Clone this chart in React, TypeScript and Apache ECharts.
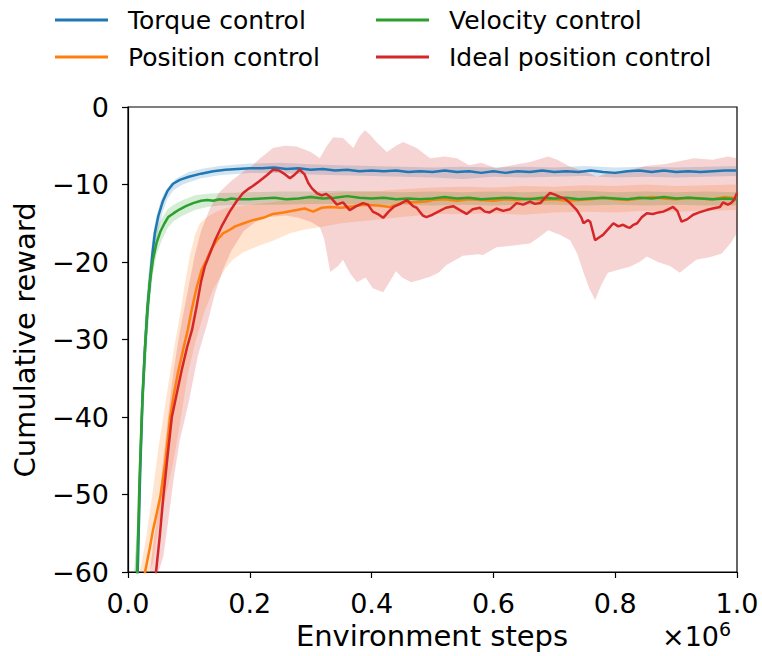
import React, { useEffect, useRef } from "react";
import * as echarts from "echarts";

// ---------- data (x in units of 10^6 environment steps) ----------
const xTicks = [0, 0.2, 0.4, 0.6, 0.8, 1.0];
const yTicks = [-60, -50, -40, -30, -20, -10, 0];

const seriesNames = ["Torque control", "Position control", "Velocity control", "Ideal position control"];
const seriesColors = ["#1f77b4", "#ff7f0e", "#2ca02c", "#d62728"];
const bandColors = ["rgba(31,119,180,0.2)", "rgba(255,127,14,0.2)", "rgba(44,160,44,0.2)", "rgba(214,39,40,0.2)"];

const torqueMean: number[][] = [
  [0.012, -75], [0.016, -60], [0.02, -47], [0.024, -37], [0.028, -31], [0.032, -26], [0.036, -22.5],
  [0.04, -19], [0.044, -16.3], [0.05, -14], [0.057, -12.2], [0.065, -10.8], [0.074, -9.9], [0.085, -9.4],
  [0.1, -9.0], [0.12, -8.6], [0.14, -8.3], [0.16, -8.1], [0.18, -8.0], [0.2, -7.9], [0.22, -7.9],
  [0.24, -7.8], [0.26, -8.0], [0.28, -7.9], [0.3, -8.1], [0.32, -8.0], [0.34, -8.2], [0.36, -8.1],
  [0.38, -8.3], [0.4, -8.2], [0.42, -8.3], [0.44, -8.2], [0.46, -8.4], [0.48, -8.3], [0.5, -8.4],
  [0.52, -8.2], [0.54, -8.4], [0.56, -8.3], [0.58, -8.5], [0.6, -8.3], [0.62, -8.5], [0.64, -8.3],
  [0.66, -8.4], [0.68, -8.2], [0.7, -8.4], [0.72, -8.3], [0.74, -8.4], [0.76, -8.2], [0.78, -8.4],
  [0.8, -8.5], [0.82, -8.3], [0.84, -8.2], [0.86, -8.4], [0.88, -8.2], [0.9, -8.4], [0.92, -8.3],
  [0.94, -8.4], [0.96, -8.3], [0.98, -8.2], [1.0, -8.2],
];
const torqueUpper: number[][] = [
  [0.011, -65], [0.015, -55], [0.02, -42], [0.025, -32], [0.03, -25], [0.035, -20.5], [0.04, -17],
  [0.046, -14.3], [0.053, -12.3], [0.06, -11], [0.07, -9.9], [0.08, -9.2], [0.1, -8.4], [0.12, -8.0],
  [0.15, -7.6], [0.2, -7.3], [0.25, -7.2], [0.3, -7.4], [0.35, -7.5], [0.4, -7.6], [0.45, -7.7],
  [0.5, -7.8], [0.55, -7.7], [0.6, -7.8], [0.65, -7.7], [0.7, -7.8], [0.75, -7.6], [0.8, -7.8],
  [0.85, -7.7], [0.9, -7.8], [0.95, -7.7], [1.0, -7.6],
];
const torqueLower: number[][] = [
  [0.014, -70], [0.018, -58], [0.023, -45], [0.027, -37], [0.032, -30], [0.036, -25], [0.04, -21.5],
  [0.045, -18], [0.05, -15.8], [0.057, -13.5], [0.065, -11.8], [0.075, -10.7], [0.09, -10], [0.1, -9.7],
  [0.12, -9.2], [0.15, -8.8], [0.2, -8.5], [0.25, -8.5], [0.3, -8.7], [0.35, -8.8], [0.4, -8.9],
  [0.45, -9.0], [0.5, -9.1], [0.55, -9.3], [0.6, -9.0], [0.65, -9.1], [0.7, -9.0], [0.75, -8.9],
  [0.8, -9.1], [0.85, -9.0], [0.9, -9.1], [0.95, -9.0], [1.0, -8.9],
];

const velocityMean: number[][] = [
  [0.011, -75], [0.015, -60], [0.019, -48], [0.023, -39], [0.028, -31], [0.032, -26], [0.036, -22.5],
  [0.041, -19.7], [0.047, -17.5], [0.053, -16.1], [0.06, -15], [0.066, -14.2], [0.075, -13.7],
  [0.085, -13.2], [0.095, -12.8], [0.107, -12.4], [0.12, -12.1], [0.13, -12.0], [0.14, -12.1],
  [0.15, -11.9], [0.16, -12.0], [0.17, -11.8], [0.18, -11.9], [0.2, -11.9], [0.22, -11.8], [0.24, -11.7],
  [0.26, -11.9], [0.28, -11.8], [0.3, -11.6], [0.32, -11.8], [0.34, -11.7], [0.36, -11.5], [0.38, -11.7],
  [0.4, -11.8], [0.42, -11.7], [0.44, -11.9], [0.46, -11.8], [0.48, -11.9], [0.5, -11.8], [0.52, -11.6],
  [0.54, -11.8], [0.56, -11.7], [0.58, -11.9], [0.6, -11.8], [0.62, -11.7], [0.64, -11.8], [0.66, -11.9],
  [0.68, -11.7], [0.7, -11.8], [0.72, -11.7], [0.74, -11.9], [0.76, -11.8], [0.78, -11.7], [0.8, -11.8],
  [0.82, -11.9], [0.84, -11.7], [0.86, -11.8], [0.88, -11.6], [0.9, -11.8], [0.92, -11.7], [0.94, -11.8],
  [0.96, -11.9], [0.98, -11.8], [1.0, -11.9],
];
const velocityUpper: number[][] = [
  [0.01, -65], [0.014, -55], [0.019, -43], [0.024, -33], [0.029, -26], [0.034, -21.5], [0.04, -18],
  [0.047, -15.8], [0.055, -14.4], [0.065, -13.2], [0.075, -12.6], [0.09, -12.0], [0.11, -11.4],
  [0.13, -11.2], [0.15, -11.1], [0.2, -11.0], [0.25, -10.9], [0.3, -10.9], [0.35, -10.8], [0.4, -10.9],
  [0.45, -11.0], [0.5, -10.9], [0.55, -11.0], [0.6, -10.9], [0.65, -11.0], [0.7, -10.9], [0.75, -10.8],
  [0.8, -11.0], [0.85, -10.9], [0.9, -11.0], [0.95, -10.9], [1.0, -11.0],
];
const velocityLower: number[][] = [
  [0.013, -70], [0.017, -58], [0.021, -47], [0.026, -37], [0.031, -30], [0.036, -25], [0.041, -21.5],
  [0.047, -19], [0.055, -17.3], [0.065, -15.6], [0.075, -14.7], [0.09, -14], [0.11, -13.3], [0.13, -12.9],
  [0.15, -12.7], [0.2, -12.6], [0.25, -12.6], [0.3, -12.5], [0.35, -12.5], [0.4, -12.6], [0.45, -12.6],
  [0.5, -12.7], [0.55, -12.6], [0.6, -12.7], [0.65, -12.6], [0.7, -12.6], [0.75, -12.7], [0.8, -12.6],
  [0.85, -12.7], [0.9, -12.6], [0.95, -12.7], [1.0, -12.7],
];

const positionMean: number[][] = [
  [0.015, -68], [0.02, -65], [0.025, -62], [0.028, -60], [0.031, -58.8], [0.036, -56.8], [0.041, -54.6],
  [0.047, -52.5], [0.053, -50.3], [0.061, -46], [0.069, -40.1], [0.075, -37.2], [0.082, -34.3],
  [0.09, -31.5], [0.098, -28.8], [0.105, -26], [0.113, -23.2], [0.121, -21], [0.129, -19.7],
  [0.137, -18.3], [0.146, -17.2], [0.156, -16.3], [0.166, -15.9], [0.176, -15.4], [0.19, -15.0],
  [0.205, -14.6], [0.222, -14.3], [0.238, -13.8], [0.255, -13.6], [0.277, -13.3], [0.29, -13.1],
  [0.304, -13.5], [0.318, -13.0], [0.332, -12.9], [0.35, -13.0], [0.37, -12.8], [0.386, -12.6],
  [0.41, -12.7], [0.43, -12.9], [0.452, -12.3], [0.47, -12.3], [0.49, -12.2], [0.5, -12.0],
  [0.52, -11.9], [0.54, -12.1], [0.56, -11.9], [0.58, -12.0], [0.6, -12.1], [0.62, -11.9], [0.64, -12.0],
  [0.66, -11.8], [0.68, -12.0], [0.7, -11.9], [0.72, -12.1], [0.74, -12.0], [0.76, -11.9], [0.78, -11.7],
  [0.8, -11.9], [0.82, -12.0], [0.84, -11.8], [0.86, -11.6], [0.88, -11.8], [0.9, -11.9], [0.92, -11.7],
  [0.94, -11.8], [0.96, -11.9], [0.98, -11.6], [1.0, -11.8],
];
const positionUpper: number[][] = [
  [0.018, -62], [0.022, -59], [0.03, -55.5], [0.04, -50], [0.05, -44], [0.06, -39], [0.069, -34.3],
  [0.077, -30.5], [0.085, -27], [0.094, -22.5], [0.102, -19], [0.11, -16.5], [0.118, -15], [0.13, -14.2],
  [0.145, -13.5], [0.162, -13], [0.2, -12.6], [0.238, -12.3], [0.27, -11.8], [0.3, -11.3], [0.35, -11.0],
  [0.4, -10.9], [0.45, -10.6], [0.5, -10.4], [0.55, -10.3], [0.6, -10.4], [0.65, -10.2], [0.7, -10.3],
  [0.75, -10.1], [0.8, -10.2], [0.85, -10.0], [0.9, -10.2], [0.95, -10.1], [1.0, -10.0],
];
const positionLower: number[][] = [
  [0.035, -64], [0.041, -58.8], [0.05, -54], [0.06, -51], [0.074, -46], [0.087, -40], [0.098, -34.5],
  [0.11, -30.5], [0.125, -26.5], [0.14, -23.5], [0.146, -22.7], [0.16, -20.8], [0.172, -19.7],
  [0.19, -18.7], [0.212, -18.0], [0.24, -17.2], [0.266, -16.3], [0.29, -15.8], [0.315, -15.5],
  [0.35, -15.0], [0.4, -14.6], [0.45, -14.2], [0.5, -13.8], [0.55, -13.8], [0.6, -13.7], [0.65, -13.9],
  [0.7, -13.6], [0.75, -13.5], [0.8, -13.6], [0.85, -13.4], [0.9, -13.5], [0.95, -13.4], [1.0, -13.3],
];

const idealMean: number[][] = [
  [0.04, -70], [0.046, -60], [0.052, -55.5], [0.058, -50.3], [0.065, -45], [0.072, -40], [0.08, -37],
  [0.088, -34], [0.097, -31], [0.105, -28.8], [0.112, -26], [0.12, -22.5], [0.126, -20.6], [0.135, -18.8],
  [0.143, -17.2], [0.155, -15.2], [0.167, -13.5], [0.178, -12.2], [0.189, -11.1], [0.197, -10.6],
  [0.205, -10.2], [0.215, -9.6], [0.228, -8.8], [0.238, -8.1], [0.248, -8.2], [0.258, -8.7], [0.266, -9.2],
  [0.274, -8.7], [0.282, -8.1], [0.29, -8.7], [0.296, -9.8], [0.302, -10.5], [0.31, -11.1], [0.318, -11.4],
  [0.325, -11.2], [0.332, -11.6], [0.343, -12.6], [0.353, -12.3], [0.364, -13.3], [0.375, -12.8],
  [0.386, -12.4], [0.394, -12.6], [0.402, -13.5], [0.412, -13.9], [0.419, -14.3], [0.428, -13.5],
  [0.436, -12.9], [0.447, -12.5], [0.458, -12.0], [0.468, -12.8], [0.474, -13.0], [0.484, -14.0],
  [0.49, -14.2], [0.5, -13.9], [0.512, -13.4], [0.522, -13.0], [0.534, -12.8], [0.545, -13.3],
  [0.556, -13.8], [0.566, -13.2], [0.578, -13.0], [0.586, -13.5], [0.594, -13.6], [0.605, -13.1],
  [0.616, -13.4], [0.627, -13.2], [0.638, -12.4], [0.649, -12.6], [0.66, -12.2], [0.668, -12.5],
  [0.677, -12.4], [0.685, -11.7], [0.693, -11.1], [0.701, -11.3], [0.709, -11.6], [0.717, -11.8],
  [0.726, -12.4], [0.737, -13.3], [0.744, -14.2], [0.748, -15.0], [0.755, -14.6], [0.759, -14.8],
  [0.763, -16.0], [0.767, -17.2], [0.774, -16.8], [0.78, -16.5], [0.788, -15.8], [0.797, -15.0],
  [0.805, -15.4], [0.813, -15.2], [0.82, -15.5], [0.824, -15.6], [0.83, -15.2], [0.836, -15.0],
  [0.844, -14.2], [0.852, -13.7], [0.862, -13.8], [0.871, -13.6], [0.879, -13.5], [0.887, -13.2],
  [0.895, -12.9], [0.902, -13.4], [0.909, -14.8], [0.918, -14.5], [0.928, -13.9], [0.938, -13.6],
  [0.95, -13.3], [0.96, -13.1], [0.972, -12.9], [0.977, -12.3], [0.985, -12.6], [0.99, -12.4],
  [0.995, -12.0], [1.0, -11.1],
];
const idealUpper: number[][] = [
  [0.036, -62], [0.042, -56], [0.05, -52], [0.057, -46], [0.063, -42], [0.07, -37], [0.075, -34],
  [0.083, -30], [0.09, -27], [0.1, -23], [0.11, -19], [0.12, -16], [0.135, -13], [0.15, -11], [0.17, -9.5],
  [0.19, -8.3], [0.205, -7.5], [0.217, -6.6], [0.238, -5.3], [0.258, -5.0], [0.277, -5.1], [0.3, -5.8],
  [0.315, -6.6], [0.325, -5.2], [0.337, -3.9], [0.353, -4.0], [0.37, -5.3], [0.38, -3.8], [0.389, -3.0],
  [0.398, -3.6], [0.408, -4.5], [0.425, -5.8], [0.44, -5.0], [0.452, -4.5], [0.474, -5.3], [0.496, -6.6],
  [0.52, -6.4], [0.54, -6.6], [0.56, -7.5], [0.58, -7.2], [0.605, -7.9], [0.63, -7.5], [0.66, -7.1],
  [0.69, -6.4], [0.705, -6.8], [0.726, -7.7], [0.75, -8.3], [0.77, -9.0], [0.795, -8.4], [0.82, -8.2],
  [0.85, -7.6], [0.88, -7.4], [0.905, -7.0], [0.93, -6.6], [0.96, -6.8], [0.985, -6.4], [1.0, -6.6],
];
const idealLower: number[][] = [
  [0.05, -64], [0.058, -58], [0.065, -54], [0.075, -48], [0.085, -43], [0.1, -38], [0.115, -32],
  [0.13, -28], [0.143, -24], [0.156, -21], [0.17, -18.5], [0.19, -16], [0.21, -14.8], [0.23, -14.2],
  [0.26, -14.0], [0.28, -14.3], [0.3, -14.8], [0.315, -15.5], [0.322, -17], [0.328, -19.5], [0.332, -21.3],
  [0.345, -20.5], [0.353, -19.7], [0.365, -21.5], [0.376, -22.6], [0.39, -22.0], [0.402, -23.4],
  [0.419, -23.9], [0.43, -22.5], [0.44, -21.2], [0.45, -22.0], [0.465, -22.6], [0.48, -22.3],
  [0.496, -21.9], [0.51, -21.4], [0.523, -20.4], [0.55, -19.2], [0.575, -19.0], [0.583, -19.1],
  [0.605, -18.1], [0.63, -17.9], [0.66, -17.6], [0.675, -16.8], [0.69, -15.9], [0.71, -16.5],
  [0.726, -17.2], [0.738, -19.0], [0.748, -21.4], [0.758, -23.5], [0.767, -24.9], [0.777, -23.0],
  [0.788, -21.4], [0.805, -21.0], [0.824, -20.6], [0.84, -20.0], [0.852, -19.3], [0.87, -20.0],
  [0.89, -20.5], [0.906, -21.4], [0.92, -20.5], [0.933, -19.7], [0.955, -19.4], [0.975, -18.9],
  [0.99, -17.5], [1.0, -16.3],
];

const means = [torqueMean, positionMean, velocityMean, idealMean];
const uppers = [torqueUpper, positionUpper, velocityUpper, idealUpper];
const lowers = [torqueLower, positionLower, velocityLower, idealLower];

const FONT = "DejaVu Sans";

function bandSeries(i: number) {
  const pts = uppers[i].concat(lowers[i].slice().reverse());
  return {
    type: "custom",
    name: seriesNames[i] + " band",
    silent: true,
    clip: true,
    data: pts,
    encode: { x: 0, y: 1 },
    renderItem: (params: any, api: any) => {
      if (params.dataIndex !== 0) return null;
      let points = pts.map((p) => api.coord(p));
      const cs = params.coordSys;
      const g: any = (echarts as any).graphic;
      if (g && g.clipPointsByRect) {
        points = g.clipPointsByRect(points, { x: cs.x, y: cs.y, width: cs.width, height: cs.height });
      }
      return {
        type: "polygon",
        shape: { points },
        style: { fill: bandColors[i], stroke: null },
      };
    },
  };
}

function lineSeries(i: number) {
  return {
    type: "line",
    name: seriesNames[i],
    data: means[i],
    showSymbol: false,
    symbol: "none",
    clip: true,
    color: seriesColors[i],
    lineStyle: { color: seriesColors[i], width: 2.5 },
    itemStyle: { color: seriesColors[i] },
  };
}

export default function App() {
  const ref = useRef<HTMLDivElement>(null);
  useEffect(() => {
    if (!ref.current) return;
    const chart = echarts.init(ref.current, undefined, { renderer: "svg" });
    const fmtMinus = (v: number) => (v < 0 ? "\u2212" + Math.abs(v) : String(v));
    const legendCommon = {
      orient: "vertical",
      top: 0,
      icon: "rect",
      itemWidth: 53,
      itemHeight: 3,
      itemGap: 7,
      selectedMode: false,
      textStyle: { fontFamily: FONT, fontSize: 25, color: "#000", lineHeight: 30, padding: [0, 0, 0, 15] },
    };
    chart.setOption({
      animation: false,
      backgroundColor: "#fff",
      textStyle: { fontFamily: FONT },
      grid: {
        left: 128, right: 25, top: 107, bottom: 84,
        show: true, borderColor: "#000", borderWidth: 1.2, backgroundColor: "transparent",
      },
      legend: [
        { ...legendCommon, left: 50, data: [seriesNames[0], seriesNames[1]] },
        { ...legendCommon, left: 371, data: [seriesNames[2], seriesNames[3]] },
      ],
      xAxis: {
        type: "value",
        min: xTicks[0],
        max: xTicks[xTicks.length - 1],
        interval: 0.2,
        splitLine: { show: false },
        axisLine: { show: true, onZero: false, lineStyle: { color: "#000", width: 1.2 } },
        axisTick: { show: true, inside: false, length: 6, lineStyle: { color: "#000", width: 1.2 } },
        axisLabel: {
          fontFamily: FONT, fontSize: 27, color: "#000", margin: 18,
          showMinLabel: true, showMaxLabel: true,
          formatter: (v: number) => v.toFixed(1),
        },
      },
      yAxis: {
        type: "value",
        min: yTicks[0],
        max: yTicks[yTicks.length - 1],
        interval: 10,
        splitLine: { show: false },
        axisLine: { show: true, onZero: false, lineStyle: { color: "#000", width: 1.2 } },
        axisTick: { show: true, inside: false, length: 6, lineStyle: { color: "#000", width: 1.2 } },
        axisLabel: {
          fontFamily: FONT, fontSize: 27, color: "#000", margin: 19,
          showMinLabel: true, showMaxLabel: true,
          formatter: fmtMinus,
        },
      },
      graphic: [
        {
          type: "text", x: 432, y: 636,
          style: { text: "Environment steps", font: `29px "${FONT}"`, fill: "#000", align: "center", verticalAlign: "middle" },
        },
        {
          type: "text", x: 25, y: 340, rotation: Math.PI / 2,
          style: { text: "Cumulative reward", font: `29px "${FONT}"`, fill: "#000", align: "center", verticalAlign: "middle" },
        },
        {
          type: "text", x: 719, y: 636,
          style: { text: "\u00d710", font: `27px "${FONT}"`, fill: "#000", align: "right", verticalAlign: "middle" },
        },
        {
          type: "text", x: 719, y: 629,
          style: { text: "6", font: `19px "${FONT}"`, fill: "#000", align: "left", verticalAlign: "middle" },
        },
      ],
      series: [0, 1, 2, 3].map(bandSeries).concat([0, 1, 2, 3].map(lineSeries) as any),
    });
    return () => chart.dispose();
  }, []);
  return <div ref={ref} style={{ position: "fixed", left: 0, top: 0, width: 762, height: 656, background: "#fff" }} />;
}
